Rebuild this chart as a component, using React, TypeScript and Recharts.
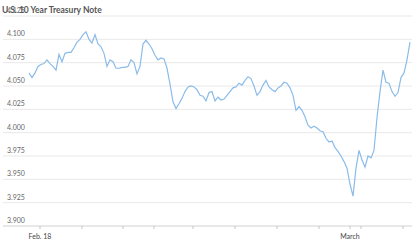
import React from 'react';
import { LineChart, Line, XAxis, YAxis, CartesianGrid } from 'recharts';

// 10-year yield, sampled at even steps through the session range
const yields = [
  4.064, 4.059, 4.064, 4.071, 4.073, 4.074, 4.078, 4.074, 4.071, 4.067,
  4.084, 4.076, 4.085, 4.086, 4.086, 4.091, 4.097, 4.100, 4.105, 4.108,
  4.100, 4.096, 4.105, 4.095, 4.092, 4.085, 4.071, 4.078, 4.076, 4.069,
  4.069, 4.070, 4.070, 4.071, 4.078, 4.075, 4.063, 4.071, 4.095, 4.099,
  4.095, 4.090, 4.083, 4.078, 4.080, 4.079, 4.069, 4.052, 4.033, 4.026,
  4.031, 4.037, 4.044, 4.049, 4.050, 4.049, 4.046, 4.040, 4.039, 4.034,
  4.043, 4.044, 4.034, 4.038, 4.035, 4.036, 4.040, 4.044, 4.048, 4.049,
  4.053, 4.051, 4.056, 4.060, 4.058, 4.050, 4.040, 4.044, 4.051, 4.056,
  4.049, 4.046, 4.044, 4.048, 4.050, 4.054, 4.053, 4.048, 4.040, 4.024,
  4.028, 4.024, 4.017, 4.008, 4.005, 4.007, 4.005, 4.002, 4.001, 3.994,
  3.990, 3.991, 3.984, 3.980, 3.975, 3.969, 3.962, 3.945, 3.932, 3.962,
  3.981, 3.971, 3.963, 3.975, 3.973, 3.981, 4.016, 4.044, 4.067, 4.054,
  4.053, 4.044, 4.039, 4.043, 4.059, 4.064, 4.078, 4.097,
];

const data = yields.map((v, i) => ({ t: i, v }));

const yTicks = [3.9, 3.925, 3.95, 3.975, 4.0, 4.025, 4.05, 4.075, 4.1, 4.125];
const xTicks = [3.667, 17.667, 31.333, 41.667, 54.667, 68.667, 82.667, 96.667, 107, 110.667, 124.667];
const xLabels: Record<string, string> = { '3.667': 'Feb. 18', '107': 'March' };

const font = 'Lato, "Open Sans", sans-serif';

const YTick = (props: any) => {
  const { y, payload } = props;
  return (
    <text x={7} y={y - 3} fontSize={7} fill="#666" fontFamily={font} textAnchor="start">
      {Number(payload.value).toFixed(3)}
    </text>
  );
};

const XTick = (props: any) => {
  const { x, y, payload } = props;
  const label = xLabels[String(payload.value)];
  if (!label) return null;
  return (
    <text x={x} y={y + 8} fontSize={7} fill="#444" fontFamily={font} textAnchor="middle">
      {label}
    </text>
  );
};

export default function App() {
  return (
    <div style={{ position: 'absolute', left: 0, top: 0, width: 420, height: 242, background: '#fff' }}>
      <LineChart width={420} height={242} data={data} margin={{ top: 16, right: 8, bottom: 0, left: 2 }}>
        <CartesianGrid vertical={false} stroke="#e9e9e9" />
        <XAxis
          dataKey="t"
          type="number"
          domain={[-8.667, 127.667]}
          ticks={xTicks}
          interval={0}
          height={16}
          axisLine={{ stroke: '#dcdcdc' }}
          tickLine={{ stroke: '#c4c4c4' }}
          tickSize={3}
          tick={<XTick />}
          allowDataOverflow
        />
        <YAxis
          type="number"
          domain={[3.9, 4.125]}
          ticks={yTicks}
          interval={0}
          width={1}
          axisLine={false}
          tickLine={false}
          tick={<YTick />}
          allowDataOverflow
        />
        <Line
          type="linear"
          dataKey="v"
          stroke="#8bbce9"
          strokeWidth={1.2}
          dot={false}
          isAnimationActive={false}
        />
      </LineChart>
      <div
        style={{
          position: 'absolute',
          left: 2,
          top: 6,
          fontFamily: font,
          fontSize: 8.5,
          fontWeight: 700,
          color: '#555',
          lineHeight: 1,
        }}
      >
        U.S. 10 Year Treasury Note
      </div>
    </div>
  );
}
